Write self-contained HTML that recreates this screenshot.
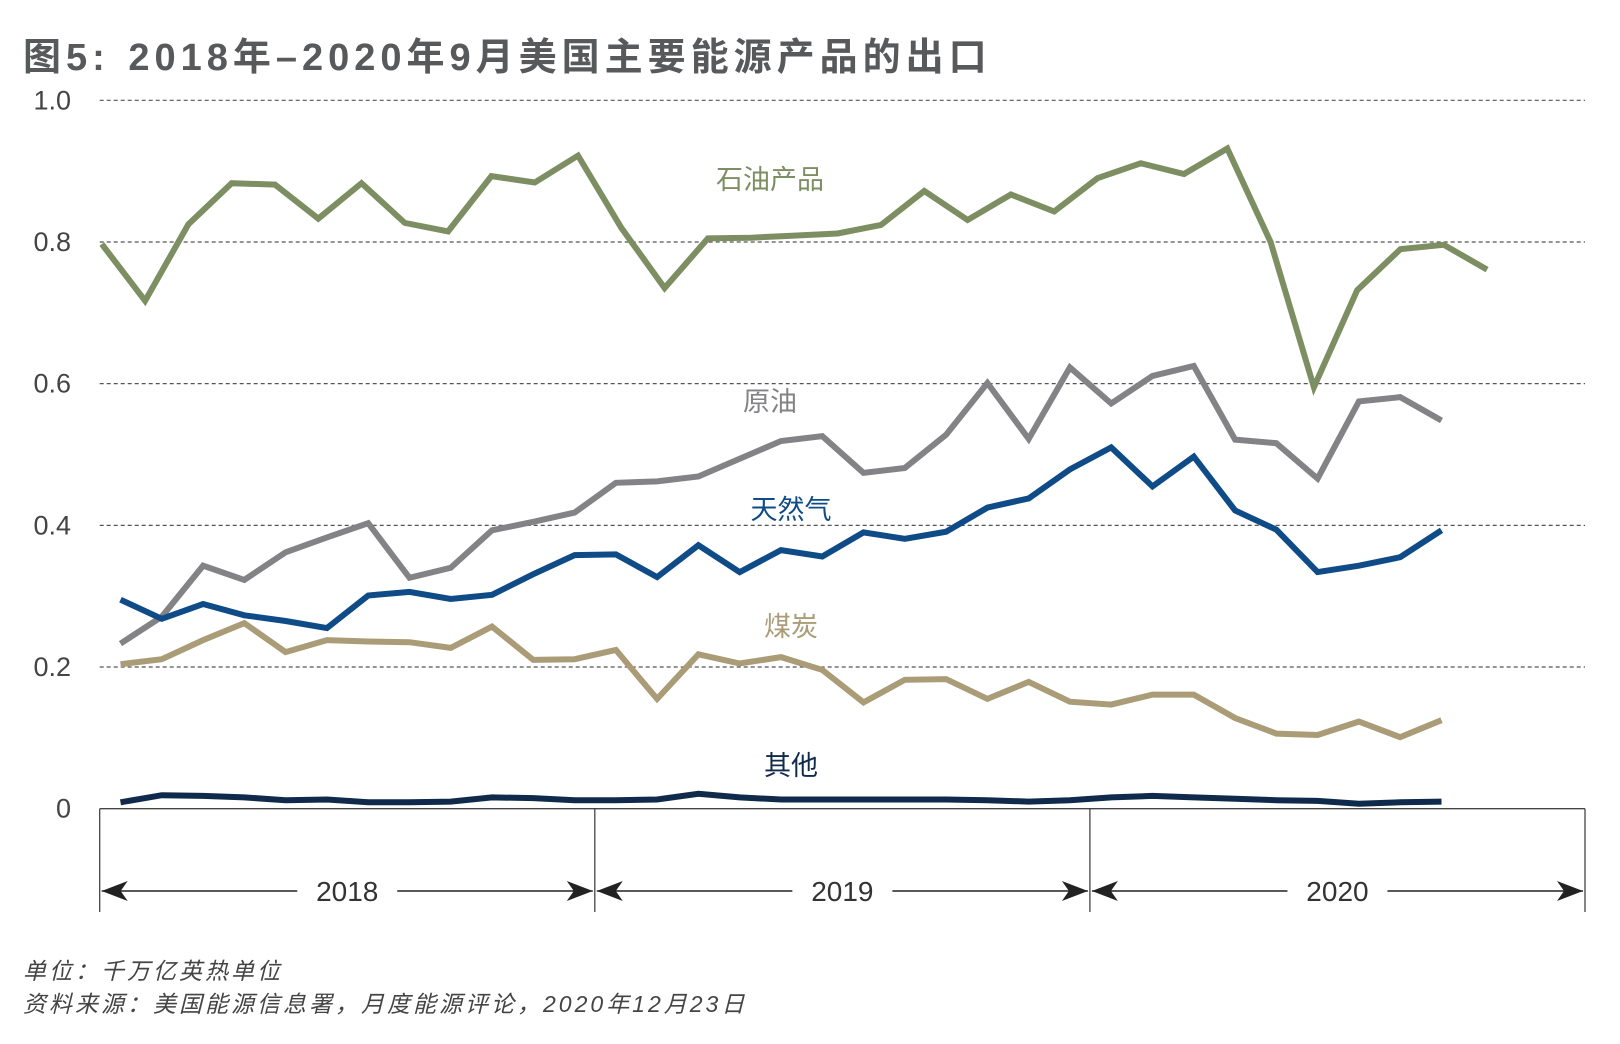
<!DOCTYPE html>
<html><head><meta charset="utf-8">
<style>
body{margin:0;background:#fff;width:1620px;height:1044px;overflow:hidden;font-family:"Liberation Sans","Noto Sans CJK SC",sans-serif;}
#title{position:absolute;left:23px;top:26px;font-size:38px;font-weight:bold;color:#58595b;white-space:nowrap;letter-spacing:5px;word-spacing:3px}
.note{position:absolute;left:23px;font-size:23px;font-style:italic;color:#444;white-space:nowrap;letter-spacing:3px}
svg{position:absolute;left:0;top:0}
</style></head><body>
<div id="title">图5: 2018年–2020年9月美国主要能源产品的出口</div>
<svg id="chart" width="1620" height="1044"></svg>
<div class="note" style="top:952px">单位：千万亿英热单位</div>
<div class="note" style="top:985px">资料来源：美国能源信息署，月度能源评论，2020年12月23日</div>
<script>
const yTicks=[0,0.2,0.4,0.6,0.8,1.0];
const yTickLabels=["0","0.2","0.4","0.6","0.8","1.0"];
const years=["2018","2019","2020"];
const petroleum=[0.797,0.717,0.825,0.883,0.881,0.833,0.883,0.827,0.815,0.893,0.884,0.922,0.820,0.735,0.805,0.806,0.809,0.812,0.824,0.872,0.831,0.867,0.843,0.890,0.911,0.896,0.932,0.800,0.595,0.732,0.790,0.796,0.761];
const crude=[0.233,0.271,0.343,0.323,0.362,0.383,0.403,0.326,0.340,0.393,0.405,0.418,0.460,0.462,0.469,0.494,0.519,0.526,0.474,0.481,0.528,0.601,0.522,0.623,0.572,0.611,0.625,0.521,0.516,0.466,0.575,0.581,0.548];
const gas=[0.295,0.268,0.289,0.273,0.265,0.255,0.301,0.306,0.296,0.302,0.331,0.358,0.359,0.327,0.372,0.334,0.365,0.356,0.390,0.381,0.391,0.425,0.438,0.479,0.510,0.455,0.497,0.421,0.394,0.334,0.343,0.355,0.393];
const coal=[0.204,0.211,0.238,0.262,0.221,0.238,0.236,0.235,0.227,0.257,0.210,0.211,0.224,0.155,0.218,0.205,0.214,0.196,0.150,0.182,0.183,0.155,0.179,0.151,0.147,0.161,0.161,0.128,0.106,0.104,0.123,0.101,0.125];
const other=[0.009,0.019,0.018,0.016,0.012,0.013,0.009,0.009,0.010,0.016,0.015,0.012,0.012,0.013,0.021,0.016,0.013,0.013,0.013,0.013,0.013,0.012,0.010,0.012,0.016,0.018,0.016,0.014,0.012,0.011,0.007,0.009,0.010];

const NS="http://www.w3.org/2000/svg";
const svg=document.getElementById('chart');
const y=v=>808.7-v*708.4;
const xG=i=>101.8+i*43.29;
const xO=i=>120.5+i*41.28;
function mk(t,a){const e=document.createElementNS(NS,t);for(const k in a)e.setAttribute(k,a[k]);svg.appendChild(e);return e;}
yTicks.forEach((v,i)=>{
  if(v>0){const l=mk('line',{x1:99.7,x2:1585,y1:y(v),y2:y(v),stroke:'#555','stroke-width':1.2,'stroke-dasharray':'4,3'});
  
  }
  const t=mk('text',{x:71,y:y(v)+9,'text-anchor':'end','font-size':27,fill:'#444'});
  t.textContent=yTickLabels[i];
  
  
});
const ax=mk('line',{x1:99.7,x2:1585,y1:y(0),y2:y(0),stroke:'#444','stroke-width':1.3});


const yw=(1585-99.7)/3;
for(let k=0;k<=3;k++){
  const xx=99.7+k*yw;
  const d=mk('line',{x1:xx,x2:xx,y1:y(0),y2:912,stroke:'#444','stroke-width':1.3});
  
  
}
years.forEach((yr,k)=>{
  const a=99.7+k*yw,b=a+yw,c=(a+b)/2,ay=891;
  const g=mk('g',{});
  
  
  const p=(d)=>{const e=document.createElementNS(NS,'path');for(const kk in d)e.setAttribute(kk,d[kk]);g.appendChild(e);return e;};
  p({d:`M${a+2},${ay}H${c-50}M${c+50},${ay}H${b-2}`,stroke:'#222','stroke-width':1.5,fill:'none'});
  p({d:`M${a+2},${ay}l26,-10l-7,10l7,10z`,fill:'#222'});
  p({d:`M${b-2},${ay}l-26,-10l7,10l-7,10z`,fill:'#222'});
  const t=document.createElementNS(NS,'text');
  t.setAttribute('x',c);t.setAttribute('y',ay+10);t.setAttribute('text-anchor','middle');t.setAttribute('font-size',28);t.setAttribute('fill','#333');
  t.textContent=yr;g.appendChild(t);
});
function series(arr,xf,color,name){
  const d=arr.map((v,i)=>(i?'L':'M')+xf(i).toFixed(1)+','+y(v).toFixed(1)).join('');
  const p=mk('path',{d:d,stroke:color,'stroke-width':6,fill:'none','stroke-linejoin':'miter','stroke-linecap':'butt'});
  
  
}
series(petroleum,xG,'#7d8f62','petroleum-line');
series(crude,xO,'#838386','crude-line');
series(gas,xO,'#0e4b87','gas-line');
series(coal,xO,'#ab9c78','coal-line');
series(other,xO,'#0f2a4a','other-line');
[["石油产品",770,179,'#7d8f62','petroleum-label'],["原油",770,401,'#838386','crude-label'],["天然气",791,509,'#0e4b87','gas-label'],["煤炭",791,626,'#ab9c78','coal-label'],["其他",791,765,'#0f2a4a','other-label']].forEach(s=>{
  const t=mk('text',{x:s[1],y:s[2]+10,'text-anchor':'middle','font-size':27,fill:s[3]});
  t.textContent=s[0];
  
  
});
</script>
</body></html>
